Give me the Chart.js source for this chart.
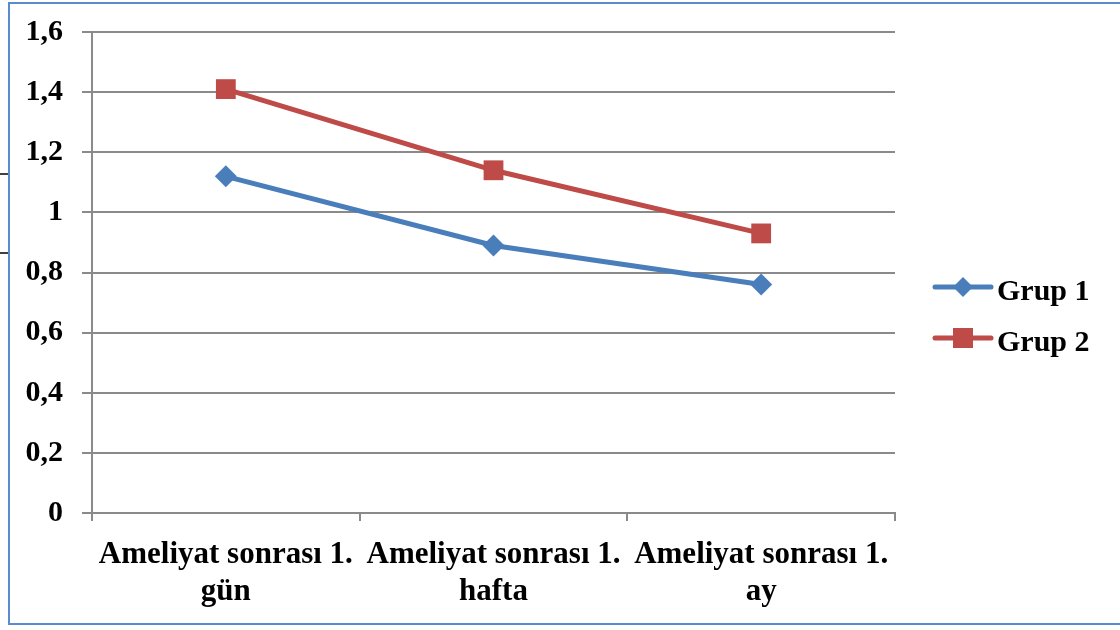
<!DOCTYPE html>
<html>
<head>
<meta charset="utf-8">
<style>
  html, body { margin: 0; padding: 0; background: #ffffff; }
  #wrap { position: relative; width: 1120px; height: 630px; }
</style>
<script src="https://cdn.jsdelivr.net/npm/chart.js@4/dist/chart.umd.min.js"></script>
</head>
<body>
<div id="wrap"><canvas id="c" width="1120" height="630"></canvas></div>
<script>
// Periods after surgery (two-line category labels)
const categories = [
  ['Ameliyat sonrası 1.', 'gün'],
  ['Ameliyat sonrası 1.', 'hafta'],
  ['Ameliyat sonrası 1.', 'ay']
];
const seriesNames = ['Grup 1', 'Grup 2'];
const grup1 = [1.12, 0.89, 0.76];
const grup2 = [1.41, 1.14, 0.93];
const yTicks = [0, 0.2, 0.4, 0.6, 0.8, 1, 1.2, 1.4, 1.6];

const BLUE = '#4a7ebb';
const RED = '#be4b48';
const GRID = '#8a8a8a';
const FONT = '"Liberation Serif", "Times New Roman", serif';

function fmt(v) {
  return String(Math.round(v * 10) / 10).replace('.', ',');
}

// Frame around the figure plus legend on the right
const decor = {
  id: 'decor',
  afterDraw(chart) {
    const ctx = chart.ctx;
    ctx.save();
    // outer frame
    ctx.strokeStyle = '#5b8bcf';
    ctx.lineWidth = 2;
    ctx.strokeRect(9, 3, 1130, 621);
    // small page marks on the left edge
    ctx.strokeStyle = '#000';
    ctx.lineWidth = 1.5;
    [174, 253].forEach(y => {
      ctx.beginPath(); ctx.moveTo(0, y); ctx.lineTo(8, y); ctx.stroke();
    });
    // legend
    const items = chart.data.datasets;
    const x0 = 935, x1 = 991;
    const rows = [287, 338];
    items.forEach((ds, i) => {
      const y = rows[i];
      const cx = (x0 + x1) / 2;
      ctx.strokeStyle = ds.borderColor;
      ctx.lineWidth = 5;
      ctx.lineCap = 'round';
      ctx.beginPath(); ctx.moveTo(x0, y); ctx.lineTo(x1, y); ctx.stroke();
      ctx.fillStyle = ds.backgroundColor;
      ctx.beginPath();
      if (ds.pointStyle === 'rectRot') {
        const r = 10;
        ctx.moveTo(cx, y - r); ctx.lineTo(cx + r, y); ctx.lineTo(cx, y + r); ctx.lineTo(cx - r, y);
        ctx.closePath();
      } else {
        ctx.rect(cx - 10, y - 10, 20, 20);
      }
      ctx.fill();
      ctx.fillStyle = '#000';
      ctx.font = 'bold 30px ' + FONT;
      ctx.textBaseline = 'alphabetic';
      ctx.textAlign = 'left';
      ctx.fillText(ds.label, 997, y + 13);
    });
    ctx.restore();
  }
};

new Chart(document.getElementById('c'), {
  type: 'line',
  data: {
    labels: categories,
    datasets: [
      {
        label: seriesNames[0],
        data: grup1,
        borderColor: BLUE,
        backgroundColor: BLUE,
        borderWidth: 5,
        pointStyle: 'rectRot',
        pointRadius: 11,
        pointHoverRadius: 11,
        pointBorderWidth: 0,
        tension: 0
      },
      {
        label: seriesNames[1],
        data: grup2,
        borderColor: RED,
        backgroundColor: RED,
        borderWidth: 5,
        pointStyle: 'rect',
        pointRadius: 14,
        pointHoverRadius: 14,
        pointBorderWidth: 0,
        tension: 0
      }
    ]
  },
  options: {
    responsive: false,
    animation: false,
    events: [],
    layout: { padding: { top: 32, right: 225, bottom: 0, left: 0 } },
    plugins: { legend: { display: false }, tooltip: { enabled: false } },
    scales: {
      x: {
        offset: true,
        grid: {
          offset: true,
          drawOnChartArea: false,
          drawTicks: true,
          tickLength: 8,
          color: GRID,
          lineWidth: 2
        },
        border: { color: GRID, width: 2 },
        ticks: {
          color: '#000',
          font: { family: FONT, size: 31, weight: 'bold', lineHeight: 1.2 },
          padding: 15,
          maxRotation: 0,
          minRotation: 0,
          autoSkip: false
        },
        afterFit(s) { s.height = 117; }
      },
      y: {
        min: 0,
        max: 1.6,
        afterBuildTicks(s) { s.ticks = yTicks.map(v => ({ value: v })); },
        grid: { color: GRID, lineWidth: 2, tickLength: 10 },
        border: { color: GRID, width: 2 },
        ticks: {
          color: '#000',
          font: { family: FONT, size: 30, weight: 'bold' },
          padding: 19,
          callback: v => fmt(v)
        },
        afterFit(s) { s.width = 92; s.paddingTop = 0; s.paddingBottom = 0; }
      }
    }
  },
  plugins: [decor]
});
</script>
</body>
</html>
